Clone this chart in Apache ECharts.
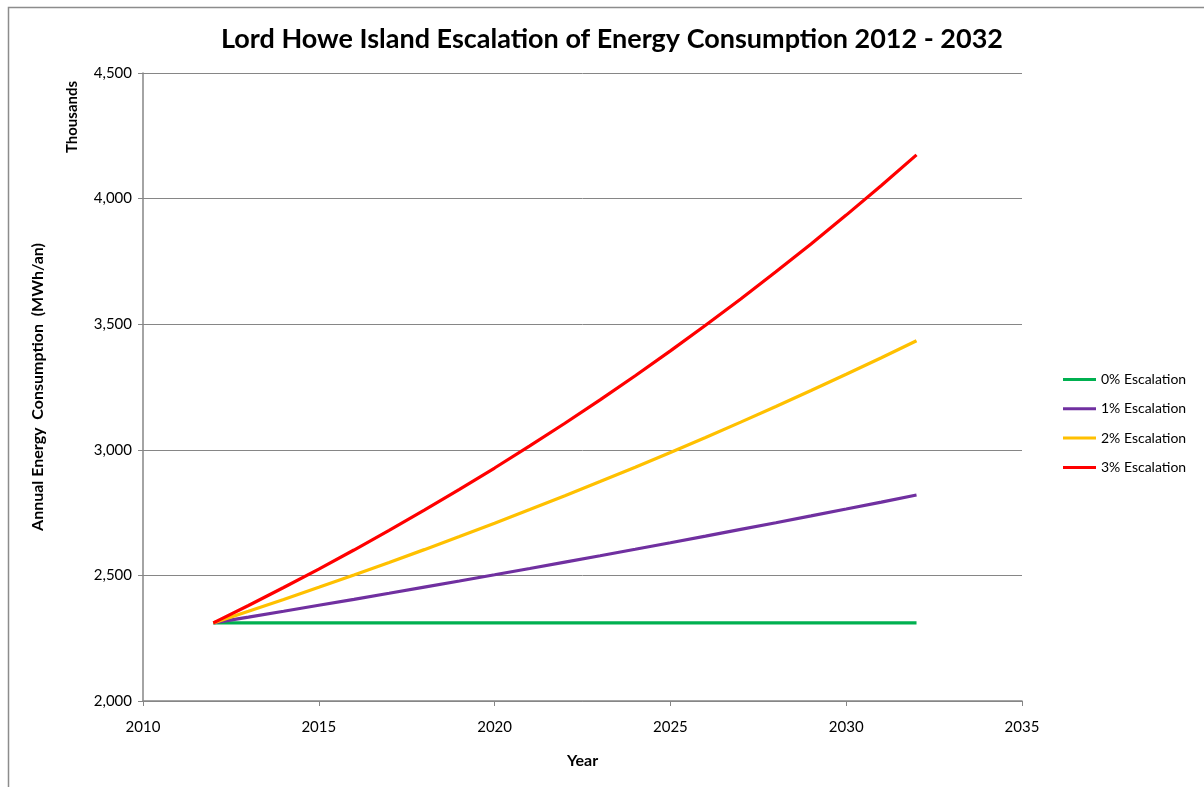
<!DOCTYPE html>
<html><head><meta charset="utf-8">
<script src="https://cdn.jsdelivr.net/npm/echarts@6/dist/echarts.min.js"></script>
<style>html,body{margin:0;padding:0;background:#fff}#c{width:1204px;height:787px}</style>
</head><body><div id="c"></div>
<script>
const years = [2012,2013,2014,2015,2016,2017,2018,2019,2020,2021,2022,2023,2024,2025,2026,2027,2028,2029,2030,2031,2032];
const esc0 = [2311,2311,2311,2311,2311,2311,2311,2311,2311,2311,2311,2311,2311,2311,2311,2311,2311,2311,2311,2311,2311];
const esc1 = [2311,2334.1,2357.4,2381.0,2404.8,2428.9,2453.2,2477.7,2502.5,2527.5,2552.8,2578.3,2604.1,2630.1,2656.4,2683.0,2709.8,2736.9,2764.3,2791.9,2819.9];
const esc2 = [2311,2357.2,2404.4,2452.4,2501.5,2551.5,2602.6,2654.6,2707.7,2761.9,2817.1,2873.4,2930.9,2989.5,3049.3,3110.3,3172.5,3236.0,3300.7,3366.7,3434.0];
const esc3 = [2311,2380.3,2451.7,2525.3,2601.0,2679.1,2759.5,2842.2,2927.5,3015.3,3105.8,3198.9,3294.9,3393.8,3495.6,3600.5,3708.5,3819.7,3934.3,4052.3,4173.9];
const seriesNames = ['0% Escalation','1% Escalation','2% Escalation','3% Escalation'];
const seriesData = [esc0, esc1, esc2, esc3];
const colors = ['#00B050','#7030A0','#FFC000','#FF0000'];
const font = 'Lato, "Open Sans", sans-serif';

const chart = echarts.init(document.getElementById('c'));
chart.setOption({
  animation: false,
  textStyle: {fontFamily: font},
  title: {
    text: 'Lord Howe Island Escalation of Energy Consumption 2012 - 2032',
    left: 607, top: 21, textAlign: 'center',
    textStyle: {fontSize: 27, fontWeight: 'bold', color: '#000', fontFamily: font}
  },
  graphic: [
    {type: 'rect', left: 6, top: 5, shape: {width: 1400, height: 1000}, style: {fill: 'none', stroke: '#8c8c8c', lineWidth: 1.5}, silent: true},
    {type: 'text', x: 72, y: 117, rotation: Math.PI/2, silent: true,
     style: {text: 'Thousands', fontSize: 15, fontWeight: 'bold', fill: '#000', fontFamily: font, align: 'center', verticalAlign: 'middle'}}
  ],
  legend: {
    orient: 'vertical', left: 1058, top: 366,
    itemWidth: 33, itemHeight: 3, itemGap: 12.3,
    icon: 'rect',
    textStyle: {fontSize: 14, lineHeight: 17, color: '#000', fontFamily: font},
    data: seriesNames
  },
  grid: {left: 143, right: 182, top: 73, bottom: 86, containLabel: false},
  xAxis: {
    type: 'value', min: 2010, max: 2035, interval: 5,
    name: 'Year', nameLocation: 'middle', nameGap: 52,
    nameTextStyle: {fontSize: 16, fontWeight: 'bold', color: '#000'},
    axisLine: {show: true, lineStyle: {color: '#868686', width: 1.5}},
    axisTick: {show: true, length: 5, lineStyle: {color: '#868686'}},
    axisLabel: {fontSize: 15, color: '#000', margin: 19, formatter: v => String(v)},
    splitLine: {show: false}
  },
  yAxis: {
    type: 'value', min: 2000, max: 4500, interval: 500,
    name: 'Annual Energy  Consumption  (MWh/an)', nameLocation: 'middle', nameGap: 97,
    nameTextStyle: {fontSize: 16, fontWeight: 'bold', color: '#000'},
    axisLine: {show: true, lineStyle: {color: '#868686', width: 1.5}},
    axisTick: {show: true, length: 5, lineStyle: {color: '#868686'}},
    axisLabel: {fontSize: 15, color: '#000', margin: 11, formatter: v => v.toLocaleString('en-US')},
    splitLine: {show: true, lineStyle: {color: '#868686', width: 1}}
  },
  series: seriesNames.map((n, i) => ({
    name: n, type: 'line', showSymbol: false, symbol: 'none',
    lineStyle: {width: 3.2, color: colors[i]}, itemStyle: {color: colors[i]},
    data: years.map((y, j) => [y, seriesData[i][j]])
  }))
});
</script></body></html>
